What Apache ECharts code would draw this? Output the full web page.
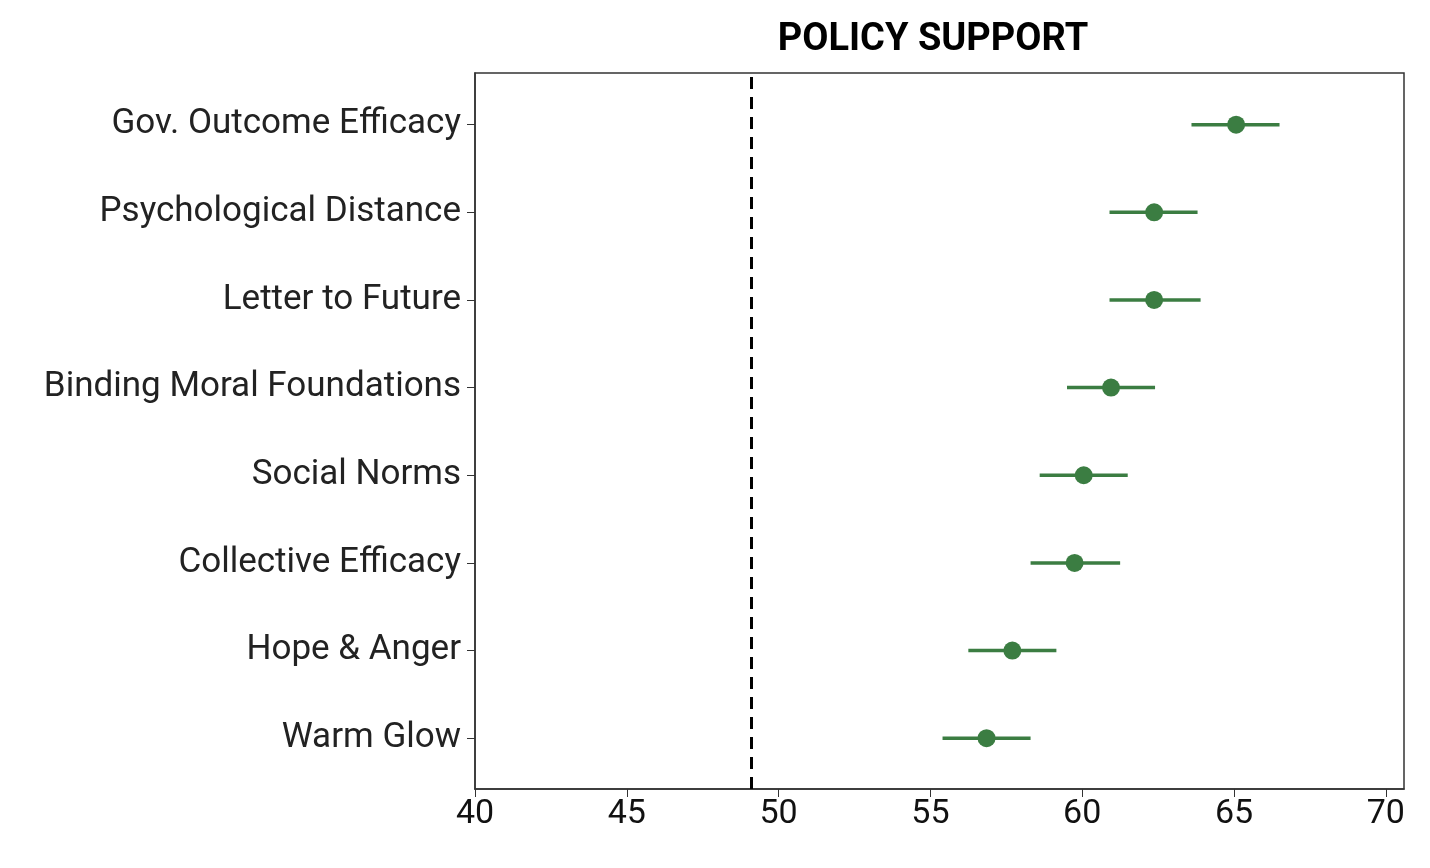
<!DOCTYPE html>
<html><head><meta charset="utf-8">
<script src="https://cdn.jsdelivr.net/npm/echarts@6/dist/echarts.min.js"></script>
<style>body{margin:0;background:#fff}#c{width:1430px;height:868px}</style>
</head><body><div id="c"></div>
<script>
// bottom to top
var categories = ['Warm Glow','Hope & Anger','Collective Efficacy','Social Norms','Binding Moral Foundations','Letter to Future','Psychological Distance','Gov. Outcome Efficacy'];
var means = [56.85, 57.7, 59.75, 60.05, 60.95, 62.37, 62.37, 65.07];
var lows  = [55.4, 56.25, 58.3, 58.6, 59.5, 60.9, 60.9, 63.6];
var highs = [58.3, 59.15, 61.25, 61.5, 62.4, 63.9, 63.8, 66.5];
var refLine = 49.1;
var xTicks = [40,45,50,55,60,65,70];

var green = '#3b7d42';
var chart = echarts.init(document.getElementById('c'));
var idx = categories.map(function(c,i){return i;});
chart.setOption({
  animation:false,
  title:{text:'POLICY SUPPORT',left:928,textAlign:'center',top:16,
    textStyle:{fontFamily:'Roboto',fontWeight:'bold',fontSize:38,color:'#000'}},
  grid:{left:475,right:26,top:73,bottom:79,show:true,borderColor:'#333',borderWidth:1.5},
  xAxis:{type:'value',min:40,max:70.6,
    axisLine:{show:true,onZero:false,lineStyle:{color:'#333',width:1.5}},
    axisTick:{show:true,customValues:xTicks,length:8,lineStyle:{color:'#333'}},
    axisLabel:{customValues:xTicks,fontFamily:'Roboto',fontSize:34,color:'#111',margin:8},
    splitLine:{show:false}},
  yAxis:{type:'value',min:-0.58,max:7.59,
    axisLine:{show:true,onZero:false,lineStyle:{color:'#333',width:1.5}},
    axisTick:{show:true,customValues:idx,length:8,lineStyle:{color:'#333'}},
    axisLabel:{customValues:idx,fontFamily:'Roboto',fontSize:35,color:'#222',margin:14,
      formatter:function(v){return categories[Math.round(v)];}},
    splitLine:{show:false}},
  series:[
    {type:'custom',data:idx.map(function(i){return [lows[i],highs[i],i];}),
      renderItem:function(params,api){
        var a=api.coord([api.value(0),api.value(2)]),b=api.coord([api.value(1),api.value(2)]);
        return {type:'line',shape:{x1:a[0],y1:a[1],x2:b[0],y2:b[1]},style:{stroke:green,lineWidth:3.5}};
      },z:2},
    {type:'scatter',data:idx.map(function(i){return [means[i],i];}),symbolSize:18,
      itemStyle:{color:green,opacity:1},z:3,
      markLine:{silent:true,symbol:'none',label:{show:false},
        lineStyle:{color:'#000',type:[12,8],width:3},data:[{xAxis:refLine}]}}
  ]
});
</script></body></html>
